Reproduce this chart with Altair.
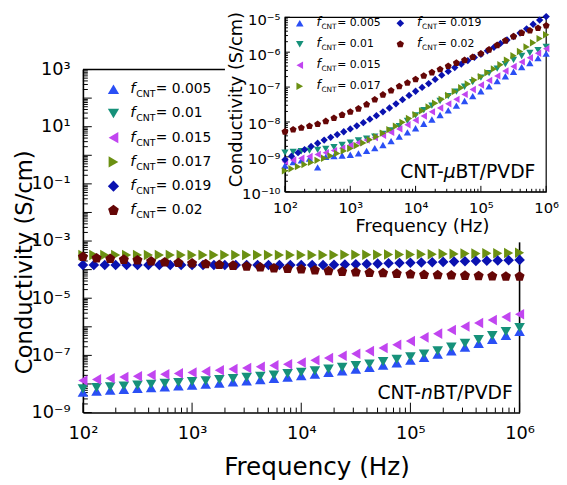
import altair as alt
import pandas as pd

FONT = "DejaVu Sans"

# ---------------- data ----------------
SERIES = ["0.005", "0.01", "0.015", "0.017", "0.019", "0.02"]
COLORS = ["#2a4ff5", "#16917a", "#c145f0", "#6b9012", "#0a12b0", "#650606"]
PENTAGON = "M0,-1L0.951,-0.309L0.588,0.809L-0.588,0.809L-0.951,-0.309Z"
SHAPES = ["triangle-up", "triangle-down", "triangle-left", "triangle-right", "diamond", PENTAGON]

# measurement frequencies (Hz)
FREQ_8 = [100, 133.4, 177.8, 237.1, 316.2, 421.7, 562.3, 749.9, 1000, 1334, 1778, 2371,
          3162, 4217, 5623, 7499, 10000, 13340, 17780, 23710, 31620, 42170, 56230, 74990,
          100000, 133400, 177800, 237100, 316200, 421700, 562300, 749900, 1000000]
FREQ_10 = [100, 125.9, 158.5, 199.5, 251.2, 316.2, 398.1, 501.2, 631.0, 794.3, 1000, 1259,
           1585, 1995, 2512, 3162, 3981, 5012, 6310, 7943, 10000, 12590, 15850, 19950, 25120,
           31620, 39810, 50120, 63100, 79430, 100000, 125900, 158500, 199500, 251200, 316200,
           398100, 501200, 631000, 794300, 1000000]

# log10 of conductivity (S/cm), CNT-nBT/PVDF (main panel)
MAIN_005 = [-8.29, -8.25, -8.22, -8.19, -8.16, -8.13, -8.10, -8.07, -8.04, -8.01, -7.97, -7.93,
            -7.89, -7.85, -7.81, -7.76, -7.71, -7.66, -7.60, -7.54, -7.48, -7.42, -7.34, -7.26,
            -7.17, -7.07, -6.96, -6.84, -6.71, -6.58, -6.44, -6.30, -6.16]
MAIN_010 = [-8.17, -8.13, -8.10, -8.07, -8.04, -8.01, -7.98, -7.95, -7.92, -7.89, -7.85, -7.81,
            -7.77, -7.73, -7.69, -7.64, -7.59, -7.54, -7.48, -7.42, -7.36, -7.30, -7.22, -7.14,
            -7.05, -6.95, -6.84, -6.71, -6.58, -6.45, -6.31, -6.17, -6.03]
MAIN_015 = [-7.88, -7.84, -7.80, -7.76, -7.73, -7.69, -7.66, -7.63, -7.60, -7.56, -7.52, -7.48,
            -7.44, -7.40, -7.35, -7.31, -7.25, -7.17, -7.09, -7.01, -6.94, -6.85, -6.74, -6.63,
            -6.50, -6.37, -6.24, -6.11, -5.99, -5.87, -5.76, -5.66, -5.56]
MAIN_017 = [-3.49, -3.49, -3.49, -3.49, -3.49, -3.49, -3.49, -3.49, -3.49, -3.49, -3.49, -3.49,
            -3.49, -3.49, -3.49, -3.49, -3.49, -3.49, -3.49, -3.49, -3.49, -3.49, -3.49, -3.49,
            -3.48, -3.48, -3.48, -3.48, -3.47, -3.47, -3.47, -3.46, -3.46, -3.45, -3.45, -3.44,
            -3.44, -3.43, -3.43, -3.42, -3.41]
MAIN_019 = [-3.84, -3.84, -3.84, -3.84, -3.84, -3.84, -3.84, -3.84, -3.84, -3.84, -3.84, -3.84,
            -3.84, -3.84, -3.84, -3.84, -3.84, -3.84, -3.84, -3.84, -3.84, -3.84, -3.84, -3.83,
            -3.82, -3.81, -3.80, -3.79, -3.78, -3.77, -3.76, -3.75, -3.74, -3.73, -3.72, -3.71,
            -3.70, -3.69, -3.68, -3.67, -3.66]
MAIN_020 = [-3.55, -3.60, -3.62, -3.65, -3.67, -3.71, -3.74, -3.76, -3.78, -3.80, -3.83, -3.86,
            -3.89, -3.92, -3.95, -3.97, -3.99, -4.02, -4.05, -4.07, -4.09, -4.11, -4.12, -4.14,
            -4.16, -4.18, -4.19, -4.20, -4.21, -4.22, -4.23, -4.24, -4.24]

# log10 of conductivity (S/cm), CNT-uBT/PVDF (inset)
INSET_005 = [-9.25, -9.15, -9.10, -9.05, -9.30, -9.00, -8.98, -8.96, -8.94, -8.90, -8.83, -8.75,
             -8.66, -8.55, -8.42, -8.30, -8.18, -8.05, -7.93, -7.80, -7.67, -7.53, -7.40, -7.26,
             -7.12, -6.98, -6.83, -6.69, -6.56, -6.43, -6.31, -6.17, -6.04]
INSET_010 = [-8.88, -8.86, -8.84, -8.82, -8.80, -8.77, -8.72, -8.66, -8.59, -8.53, -8.48, -8.42,
             -8.34, -8.24, -8.12, -7.97, -7.81, -7.66, -7.53, -7.40, -7.26, -7.13, -6.99, -6.86,
             -6.73, -6.60, -6.47, -6.34, -6.22, -6.11, -6.02, -5.94, -5.85]
INSET_015 = [-9.14, -9.09, -9.04, -8.99, -8.93, -8.88, -8.82, -8.75, -8.67, -8.59, -8.52, -8.45,
             -8.38, -8.30, -8.20, -8.08, -7.95, -7.83, -7.71, -7.60, -7.48, -7.35, -7.21, -7.07,
             -6.94, -6.81, -6.68, -6.54, -6.41, -6.28, -6.16, -6.03, -5.90]
INSET_017 = [-9.40, -9.34, -9.28, -9.22, -9.16, -9.10, -9.04, -8.97, -8.90, -8.83, -8.76, -8.68,
             -8.60, -8.51, -8.42, -8.32, -8.22, -8.12, -8.01, -7.90, -7.79, -7.68, -7.57, -7.46,
             -7.35, -7.24, -7.13, -7.02, -6.91, -6.80, -6.70, -6.59, -6.48, -6.36, -6.23, -6.10,
             -5.98, -5.85, -5.73, -5.61, -5.50]
INSET_019 = [-9.08, -8.98, -8.88, -8.79, -8.70, -8.61, -8.52, -8.44, -8.36, -8.28, -8.20, -8.11,
             -8.02, -7.92, -7.82, -7.71, -7.60, -7.48, -7.36, -7.24, -7.12, -7.01, -6.90, -6.78,
             -6.66, -6.55, -6.44, -6.34, -6.24, -6.15, -6.06, -5.96, -5.86, -5.75, -5.65, -5.55,
             -5.45, -5.33, -5.20, -5.08, -4.98]
INSET_020 = [-8.28, -8.22, -8.17, -8.12, -8.06, -7.98, -7.89, -7.80, -7.71, -7.62, -7.50, -7.36,
             -7.22, -7.10, -6.98, -6.88, -6.78, -6.68, -6.58, -6.49, -6.40, -6.31, -6.23, -6.14,
             -6.04, -5.93, -5.80, -5.67, -5.55, -5.45, -5.38, -5.31, -5.24]

MAIN_X_TICKS = [1e2, 1e3, 1e4, 1e5, 1e6]
MAIN_Y_TICKS = [1e3, 1e1, 1e-1, 1e-3, 1e-5, 1e-7, 1e-9]
INSET_Y_TICKS = [1e-5, 1e-6, 1e-7, 1e-8, 1e-9, 1e-10]


def frame(freqs, logs, label):
    return pd.DataFrame({"freq": freqs, "sigma": [10 ** v for v in logs], "f": label})


main_df = pd.concat([
    frame(FREQ_8, MAIN_005, "0.005"), frame(FREQ_8, MAIN_010, "0.01"),
    frame(FREQ_8, MAIN_015, "0.015"), frame(FREQ_10, MAIN_017, "0.017"),
    frame(FREQ_10, MAIN_019, "0.019"), frame(FREQ_8, MAIN_020, "0.02")])
inset_df = pd.concat([
    frame(FREQ_8, INSET_005, "0.005"), frame(FREQ_8, INSET_010, "0.01"),
    frame(FREQ_8, INSET_015, "0.015"), frame(FREQ_10, INSET_017, "0.017"),
    frame(FREQ_10, INSET_019, "0.019"), frame(FREQ_8, INSET_020, "0.02")])

# ---------------- layout ----------------
W, H = 471, 402
MX0, MX1, MY0, MY1 = 0, 443, 402, 54      # main plot area (pixels)
IX0, IX1, IY0, IY1 = 205, 470, 178, 1     # inset plot area (pixels)

SUP = "['⁰','¹','²','³','⁴','⁵','⁶','⁷','⁸','⁹']"
EXP = "round(log(datum.value)/LN10)"
LABEL_EXPR = ("'10' + (" + EXP + " < 0 ? '⁻' : '') + (abs(" + EXP + ") >= 10 ? " + SUP
              + "[floor(abs(" + EXP + ")/10)] : '') + " + SUP + "[abs(" + EXP + ") % 10]")

common_axis = dict(grid=False, ticks=False, labelExpr=LABEL_EXPR, labelFont=FONT,
                   labelColor="black", titleFont=FONT, titleColor="black",
                   titleFontWeight="normal", domainColor="black", labelOverlap=False,
                   labelFlush=False, titleAlign="center", titleBaseline="middle")

main_x_scale = alt.Scale(type="log", domain=[1e2, 1e6], range=[MX0, MX1], nice=False)
main_y_scale = alt.Scale(type="log", domain=[1e-9, 1e3], range=[MY0, MY1], nice=False)
inset_x_scale = alt.Scale(type="log", domain=[1e2, 1e6], range=[IX0, IX1], nice=False)
inset_y_scale = alt.Scale(type="log", domain=[1e-10, 1e-5], range=[IY0, IY1], nice=False)

MAIN_X_AXIS = alt.Axis(orient="bottom", values=MAIN_X_TICKS, title="Frequency (Hz)",
                       labelFontSize=18, labelPadding=12, titleFontSize=25, domainWidth=1.6,
                       titleX=237, titleY=55, **common_axis)
MAIN_Y_AXIS = alt.Axis(orient="left", values=MAIN_Y_TICKS, title="Conductivity (S/cm)",
                       labelFontSize=18, labelPadding=13, titleFontSize=23, domainWidth=1.6,
                       titleX=-59, titleY=249, titleAngle=270, **common_axis)
INSET_X_AXIS = alt.Axis(orient="bottom", offset=-(H - IY0), values=MAIN_X_TICKS,
                        title="Frequency (Hz)", labelFontSize=15, labelPadding=9,
                        titleFontSize=18, domainWidth=1.2, titleX=344, titleY=35, **common_axis)
INSET_Y_AXIS = alt.Axis(orient="left", offset=-IX0, values=INSET_Y_TICKS,
                        title="Conductivity (S/cm)", labelFontSize=15, labelPadding=5,
                        labelOffset=2, titleFontSize=18, domainWidth=1.2, titleX=-49, titleY=84,
                        titleAngle=270, **common_axis)

color_enc = alt.Color("f:N", scale=alt.Scale(domain=SERIES, range=COLORS), legend=None)
shape_enc = alt.Shape("f:N", scale=alt.Scale(domain=SERIES, range=SHAPES), legend=None)


def points(df, xs, ys, xa, ya, size):
    return alt.Chart(df).mark_point(filled=True, size=size, opacity=1).encode(
        x=alt.X("freq:Q", scale=xs, axis=xa), y=alt.Y("sigma:Q", scale=ys, axis=ya),
        color=color_enc, shape=shape_enc)


def y_ticks(vals, ys, ya, x0, length):
    return alt.Chart(pd.DataFrame({"sigma": vals})).mark_rule(color="black", strokeWidth=1).encode(
        y=alt.Y("sigma:Q", scale=ys, axis=ya), x=alt.value(x0), x2=alt.value(x0 + length))


def x_ticks(vals, xs, xa, y0, length):
    return alt.Chart(pd.DataFrame({"freq": vals})).mark_rule(color="black", strokeWidth=1).encode(
        x=alt.X("freq:Q", scale=xs, axis=xa), y=alt.value(y0), y2=alt.value(y0 - length))


def decades(lo, hi):
    return [10.0 ** e for e in range(lo, hi + 1)]


def minors(lo, hi):
    return [m * 10.0 ** e for e in range(lo, hi) for m in range(2, 10)]


main_top = alt.Chart(pd.DataFrame({"freq": [100], "freq2": [2000], "sigma": [1e3]})).mark_rule(
    color="black", strokeWidth=1.6).encode(
    x=alt.X("freq:Q", scale=main_x_scale, axis=MAIN_X_AXIS), x2="freq2:Q",
    y=alt.Y("sigma:Q", scale=main_y_scale, axis=MAIN_Y_AXIS))
main_right = alt.Chart(pd.DataFrame({"freq": [1e6], "sigma": [1e-9], "sigma2": [9e-4]})).mark_rule(
    color="black", strokeWidth=1.6).encode(
    x=alt.X("freq:Q", scale=main_x_scale, axis=MAIN_X_AXIS),
    y=alt.Y("sigma:Q", scale=main_y_scale, axis=MAIN_Y_AXIS), y2="sigma2:Q")

main_group = alt.layer(
    main_top, main_right,
    y_ticks(decades(-9, 3), main_y_scale, MAIN_Y_AXIS, MX0, 9),
    y_ticks(minors(-9, 3), main_y_scale, MAIN_Y_AXIS, MX0, 5),
    x_ticks(decades(2, 6), main_x_scale, MAIN_X_AXIS, MY0, 10),
    x_ticks(minors(2, 6), main_x_scale, MAIN_X_AXIS, MY0, 5),
    points(main_df, main_x_scale, main_y_scale, MAIN_X_AXIS, MAIN_Y_AXIS, 115),
)

inset_box = alt.Chart(pd.DataFrame({"freq": [1e2], "freq2": [1e6], "sigma": [1e-10],
                                    "sigma2": [1e-5]})).mark_rect(
    fillOpacity=0, stroke="black", strokeWidth=1.2).encode(
    x=alt.X("freq:Q", scale=inset_x_scale, axis=INSET_X_AXIS), x2="freq2:Q",
    y=alt.Y("sigma:Q", scale=inset_y_scale, axis=INSET_Y_AXIS), y2="sigma2:Q")

inset_group = alt.layer(
    inset_box,
    y_ticks(decades(-10, -5), inset_y_scale, INSET_Y_AXIS, IX0, 5),
    y_ticks(minors(-10, -5), inset_y_scale, INSET_Y_AXIS, IX0, 3),
    x_ticks(decades(2, 6), inset_x_scale, INSET_X_AXIS, IY0, 6),
    x_ticks(minors(2, 6), inset_x_scale, INSET_X_AXIS, IY0, 3),
    points(inset_df, inset_x_scale, inset_y_scale, INSET_X_AXIS, INSET_Y_AXIS, 55),
)

# ---------------- legends ----------------
leg_df = pd.DataFrame({"f": SERIES, "val": ["= " + s for s in SERIES],
                       "row": [0, 1, 2, 3, 0, 1], "col": [0, 0, 0, 0, 1, 1]})

main_leg_y = alt.Y("f:N", scale=alt.Scale(type="point", domain=SERIES, range=[74, 197], padding=0),
                   axis=None)
main_leg_base = alt.Chart(leg_df)
main_legend = alt.layer(
    main_leg_base.mark_point(filled=True, size=130, opacity=1).encode(
        x=alt.value(31), y=main_leg_y, color=color_enc, shape=shape_enc),
    main_leg_base.mark_text(text="f", font=FONT, fontSize=15, fontStyle="italic",
                            align="left", baseline="middle", dy=-1).encode(
        x=alt.value(48), y=main_leg_y),
    main_leg_base.mark_text(text="CNT", font=FONT, fontSize=9.5, align="left",
                            baseline="middle", dy=5).encode(x=alt.value(54), y=main_leg_y),
    main_leg_base.mark_text(font=FONT, fontSize=14, align="left", baseline="middle").encode(
        x=alt.value(74), y=main_leg_y, text="val:N"),
)

in_leg_x = alt.X("col:O", scale=alt.Scale(type="point", domain=[0, 1], range=[220, 322], padding=0),
                 axis=None)
in_leg_y = alt.Y("row:O", scale=alt.Scale(type="point", domain=[0, 1, 2, 3], range=[7, 71], padding=0),
                 axis=None)
in_leg_base = alt.Chart(leg_df)
inset_legend = alt.layer(
    in_leg_base.mark_point(filled=True, size=60, opacity=1).encode(
        x=in_leg_x, y=in_leg_y, color=color_enc, shape=shape_enc),
    in_leg_base.mark_text(text="f", font=FONT, fontSize=12.5, fontStyle="italic",
                          align="left", baseline="middle", dx=17, dy=-1).encode(x=in_leg_x, y=in_leg_y),
    in_leg_base.mark_text(text="CNT", font=FONT, fontSize=7.5, align="left",
                          baseline="middle", dx=22, dy=4).encode(x=in_leg_x, y=in_leg_y),
    in_leg_base.mark_text(font=FONT, fontSize=11, align="left", baseline="middle", dx=38).encode(
        x=in_leg_x, y=in_leg_y, text="val:N"),
)

# ---------------- annotations ----------------
ann = alt.Chart(pd.DataFrame({"a": [0]}))


def label(txt, x, y, align, italic=False):
    kw = dict(fontStyle="italic") if italic else {}
    return ann.mark_text(text=txt, font=FONT, fontSize=19, align=align, baseline="middle",
                         **kw).encode(x=alt.value(x), y=alt.value(y))


annotations = alt.layer(
    label("CNT-", 343, 382, "right"), label("n", 343, 382, "left", True),
    label("BT/PVDF", 355, 382, "left"),
    label("CNT-", 366, 158, "right"), label("μ", 366, 158, "left", True),
    label("BT/PVDF", 378, 158, "left"),
)

chart = alt.layer(main_group, inset_group, main_legend, inset_legend, annotations).resolve_scale(
    x="independent", y="independent").properties(
    width=W, height=H, autosize=alt.AutoSizeParams(type="none"),
    padding={"left": 76, "top": 5, "right": 12, "bottom": 65},
).configure_view(stroke="transparent").configure_axis(grid=False)

chart.save("out.html", embed_options={"renderer": "svg", "actions": False})
